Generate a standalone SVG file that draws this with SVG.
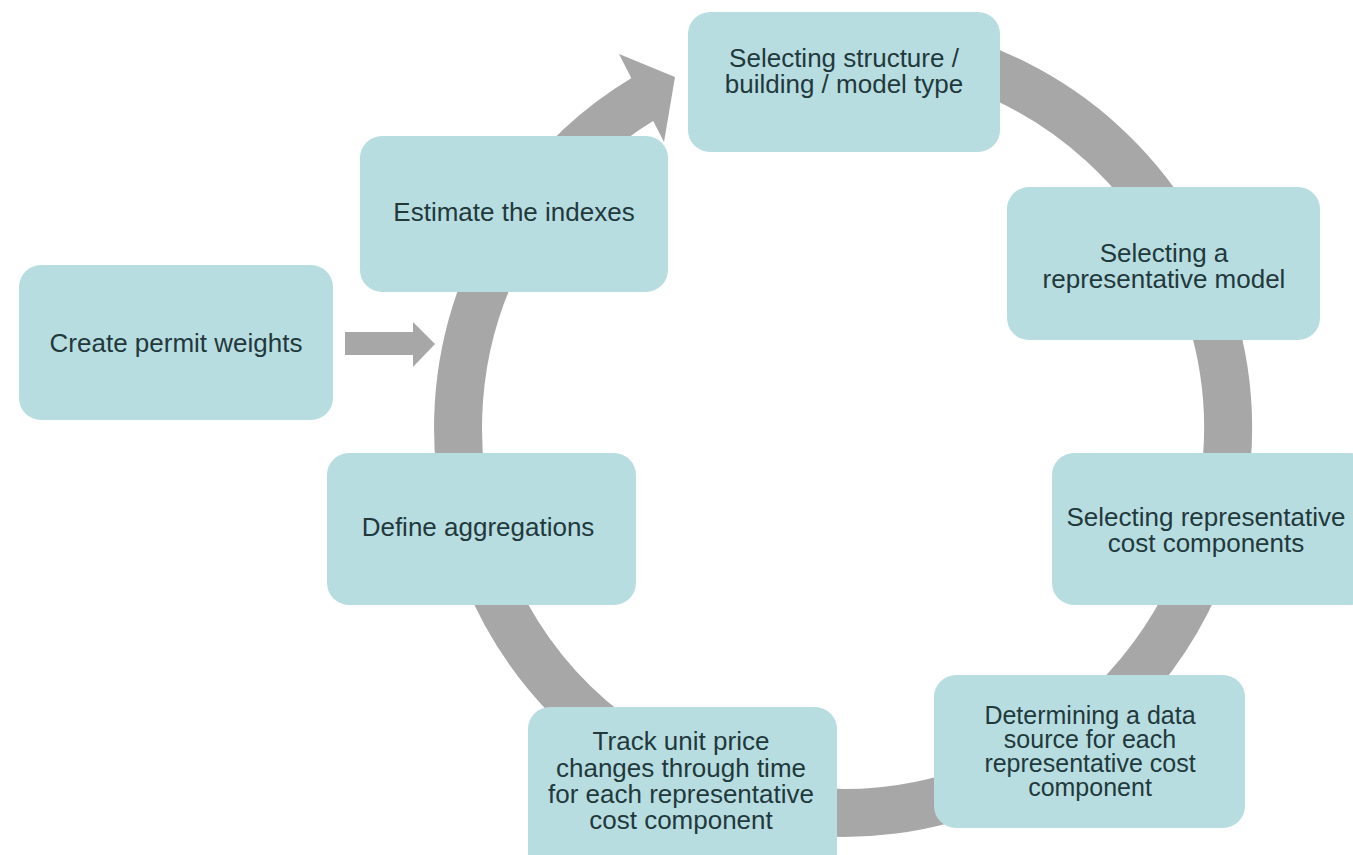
<svg xmlns="http://www.w3.org/2000/svg" width="1353" height="855" viewBox="0 0 1353 855">
  <style>
    .box { fill: #b8dde1; }
    .lbl { font-family: "Liberation Sans", Arial, sans-serif; font-size: 26px; fill: #22393c; text-anchor: middle; }
    .sm { font-size: 25px; }
    .ring { fill: none; stroke: #a7a7a7; stroke-width: 48; }
    .gray { fill: #a7a7a7; }
  </style>
  <rect width="1353" height="855" fill="#ffffff"/>

  <g id="connectors">
    <path class="ring" d="M 743.4 56.1 A 385 385 0 1 1 644.7 98.0"/>
    <polygon class="gray" points="619,54 675,77 664,142"/>
    <polygon class="gray" points="345,332 413,332 413,322 435,344 413,367 413,355 345,355"/>
  </g>

  <g id="node-structure">
    <rect class="box" x="688" y="12" width="312" height="140" rx="22"/>
    <text class="lbl" x="844" y="67">Selecting structure /</text>
    <text class="lbl" x="844" y="93">building / model type</text>
  </g>

  <g id="node-rep-model">
    <rect class="box" x="1007" y="187" width="313" height="153" rx="22"/>
    <text class="lbl" x="1164" y="262">Selecting a</text>
    <text class="lbl" x="1164" y="288">representative model</text>
  </g>

  <g id="node-cost-components">
    <rect class="box" x="1052" y="453" width="320" height="152" rx="22"/>
    <text class="lbl" x="1206" y="526">Selecting representative</text>
    <text class="lbl" x="1206" y="552">cost components</text>
  </g>

  <g id="node-data-source">
    <rect class="box" x="934" y="675" width="311" height="153" rx="22"/>
    <text class="lbl sm" x="1090" y="724">Determining a data</text>
    <text class="lbl sm" x="1090" y="748">source for each</text>
    <text class="lbl sm" x="1090" y="772">representative cost</text>
    <text class="lbl sm" x="1090" y="796">component</text>
  </g>

  <g id="node-track">
    <rect class="box" x="528" y="707" width="309" height="170" rx="22"/>
    <text class="lbl" x="681" y="750">Track unit price</text>
    <text class="lbl" x="681" y="777">changes through time</text>
    <text class="lbl" x="681" y="803">for each representative</text>
    <text class="lbl" x="681" y="829">cost component</text>
  </g>

  <g id="node-aggregations">
    <rect class="box" x="327" y="453" width="309" height="152" rx="22"/>
    <text class="lbl" x="478" y="536">Define aggregations</text>
  </g>

  <g id="node-estimate">
    <rect class="box" x="360" y="136" width="308" height="156" rx="22"/>
    <text class="lbl" x="514" y="221">Estimate the indexes</text>
  </g>

  <g id="node-permit">
    <rect class="box" x="19" y="265" width="314" height="155" rx="22"/>
    <text class="lbl" x="176" y="352">Create permit weights</text>
  </g>
</svg>
